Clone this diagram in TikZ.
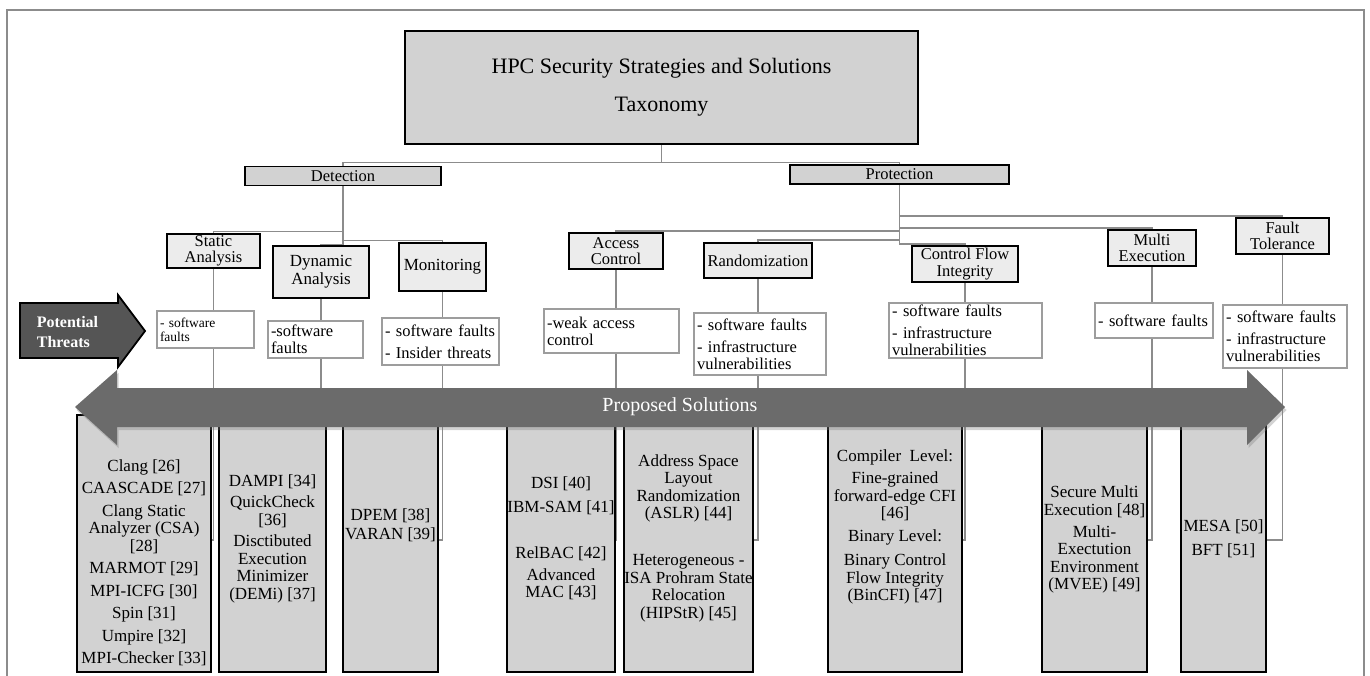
\documentclass[tikz,border=0pt]{standalone}
\usepackage{fontspec}
\setmainfont{Liberation Serif}
\usetikzlibrary{backgrounds,shadows,calc}
\definecolor{TxBox}{HTML}{D2D2D2}
\definecolor{TxCat}{HTML}{ECECEC}
\definecolor{TxLine}{HTML}{8C8C8C}
\definecolor{TxThreat}{HTML}{555555}
\definecolor{TxBand}{HTML}{6B6B6B}

\begin{document}
\begin{tikzpicture}[
    x=1pt, y=-1pt,
    titlebox/.style={
      draw=black,
      line width=1.6pt,
      fill=TxBox,
      minimum width=513pt,
      minimum height=113pt,
      align=center,
      font=\fontsize{22}{38}\selectfont
    },
    branchbox/.style={
      draw=black,
      line width=1.8pt,
      fill=TxBox,
      inner sep=0pt,
      minimum height=19pt,
      font=\fontsize{16.5}{17}\selectfont
    },
    catbox/.style={
      draw=black,
      line width=1.8pt,
      fill=TxCat,
      inner sep=0pt,
      align=center,
      font=\fontsize{16.5}{16.5}\selectfont
    },
    threatbox/.style={
      draw=TxLine!85,
      line width=1.1pt,
      fill=white,
      inner xsep=3pt,
      inner ysep=0pt,
      align=left,
      font=\fontsize{16.5}{17}\selectfont
    },
    solbox/.style={
      draw=black,
      line width=1.8pt,
      fill=TxBox,
      minimum height=257pt
    },
    soltxt/.style={
      inner sep=0pt,
      align=center,
      font=\fontsize{17}{17.5}\selectfont
    },
    tline/.style={
      draw=TxLine,
      line width=1.3pt
    }
  ]
  \useasboundingbox (0,0) rectangle (1370,676);
  \clip (0,0) rectangle (1370,676);

  % frame
  \draw[TxLine, line width=1.5pt] (7,10) rectangle (1364,700);

  % top
  \node[titlebox] (title) at (661.5,87.5) {HPC Security Strategies and Solutions\\Taxonomy};
  \node[branchbox, minimum width=196pt] (det) at (343,176) {Detection};
  \node[branchbox, minimum width=219pt] (prot) at (899.5,174.5) {Protection};

  % categories
  \node[catbox, minimum width=93pt, minimum height=34pt] (stat) at (213.5,251) {Static\\Analysis};
  \node[catbox, minimum width=96pt, minimum height=52pt, font=\fontsize{17}{18}\selectfont] (dyn) at (321,272) {Dynamic\\Analysis};
  \node[catbox, minimum width=87pt, minimum height=48pt, font=\fontsize{17}{18}\selectfont] (mon) at (442.5,267) {Monitoring};
  \node[catbox, minimum width=94pt, minimum height=36pt] (acc) at (616,251) {Access\\Control};
  \node[catbox, minimum width=108pt, minimum height=35pt] (rnd) at (758,260.5) {Randomization};
  \node[catbox, minimum width=106pt, minimum height=36pt] (cfi) at (965,264) {Control Flow\\Integrity};
  \node[catbox, minimum width=88pt, minimum height=36pt] (mul) at (1152,248) {Multi\\Execution};
  \node[catbox, minimum width=93pt, minimum height=36pt] (ft) at (1282.5,236) {Fault\\Tolerance};

  % threats
  \node[threatbox, text width=91pt, minimum height=37pt, font=\fontsize{13.5}{14}\selectfont] (thrS) at (205.5,329.5) {- software\\faults};
  \node[threatbox, text width=89pt, minimum height=37pt] (thrD) at (315.5,339.5) {-software\\faults};
  \node[threatbox, text width=111pt, minimum height=47pt] (thrM) at (440.5,341.5) {- software faults\\[5pt]- Insider threats};
  \node[threatbox, text width=129pt, minimum height=44pt] (thrA) at (611.5,331) {-weak access\\control};
  \node[threatbox, text width=126pt, minimum height=62pt] (thrR) at (760,344) {- software faults\\[5pt]- infrastructure\\vulnerabilities};
  \node[threatbox, text width=147pt, minimum height=55pt] (thrC) at (965.5,330.5) {- software faults\\[5pt]- infrastructure\\vulnerabilities};
  \node[threatbox, text width=112pt, minimum height=35pt] (thrMu) at (1154,320.5) {- software faults};
  \node[threatbox, text width=118pt, minimum height=63pt] (thrF) at (1285,336.5) {- software faults\\[5pt]- infrastructure\\vulnerabilities};

  % solutions
  \node[solbox, minimum width=134pt] (solS) at (144,543.5) {};
  \node[solbox, minimum width=107pt] (solD) at (272.5,543.5) {};
  \node[solbox, minimum width=95pt] (solM) at (390.5,543.5) {};
  \node[solbox, minimum width=108pt] (solA) at (561,543.5) {};
  \node[solbox, minimum width=129pt] (solR) at (688.5,543.5) {};
  \node[solbox, minimum width=134pt] (solC) at (895,543.5) {};
  \node[solbox, minimum width=105pt] (solMu) at (1094.5,543.5) {};
  \node[solbox, minimum width=85pt] (solF) at (1223.5,543.5) {};

  \node[soltxt] (solSt) at (144,562.5) {Clang [26]\\[5pt]CAASCADE [27]\\[5pt]Clang Static\\Analyzer (CSA)\\{[28]}\\[5pt]MARMOT [29]\\[5pt]MPI-ICFG [30]\\[5pt]Spin [31]\\[5pt]Umpire [32]\\[5pt]MPI-Checker [33]};
  \node[soltxt] (solDt) at (272.5,538.5) {DAMPI [34]\\[4pt]QuickCheck\\{[36]}\\[4pt]Disctibuted\\Execution\\Minimizer\\(DEMi) [37]};
  \node[soltxt] (solMt) at (390.5,525.5) {DPEM [38]\\[1.5pt]VARAN [39]};
  \node[soltxt] (solAt) at (561,538) {DSI [40]\\[6.5pt]IBM-SAM [41]\\[28.5pt]RelBAC [42]\\[4.5pt]Advanced\\MAC [43]};
  \node[soltxt] (solRt) at (688.5,538) {Address Space\\Layout\\Randomization\\(ASLR) [44]\\[29.5pt]Heterogeneous -\\ISA Prohram State\\Relocation\\(HIPStR) [45]};
  \node[soltxt] (solCt) at (895,527) {Compiler\ \ Level:\\[4.5pt]Fine-grained\\forward-edge CFI\\{[46]}\\[5.5pt]Binary Level:\\[6.5pt]Binary Control\\Flow Integrity\\(BinCFI) [47]};
  \node[soltxt] (solMut) at (1094.5,539.5) {Secure Multi\\Execution [48]\\[4.5pt]Multi-\\Exectution\\Environment\\(MVEE) [49]};
  \node[soltxt] (solFt) at (1223.5,539) {MESA [50]\\[6.5pt]BFT [51]};

  % connectors, behind everything
  \coordinate (stub) at (0,540);
  \begin{scope}[on background layer]
    \draw[tline] (title.south) -- ++(0,18) -| (det.north);
    \draw[tline] (title.south) -- ++(0,18) -| (prot.north);

    \draw[tline] (det.south) -- ++(0,45) -| (stat.north);
    \draw[tline] (det.south) -- ++(0,58) -| (dyn.north);
    \draw[tline] (det.south) -- ++(0,54) -| (mon.north);

    \draw[tline] (prot.south) -- ++(0,31) -| (ft.north);
    \draw[tline] (prot.south) -- ++(0,43) -| (mul.north);
    \draw[tline] (prot.south) -- ++(0,46) -| (acc.north);
    \draw[tline] (prot.south) -- ++(0,55) -| (rnd.north);
    \draw[tline] (prot.south) -- ++(0,59) -| (cfi.north);

    \draw[tline] (stat.south) |- (solS.east |- stub);
    \draw[tline] (dyn.south) |- (solD.east |- stub);
    \draw[tline] (mon.south) |- (solM.east |- stub);
    \draw[tline] (acc.south) |- (solA.east |- stub);
    \draw[tline] (rnd.south) |- (solR.east |- stub);
    \draw[tline] (cfi.south) |- (solC.east |- stub);
    \draw[tline] (mul.south) |- (solMu.east |- stub);
    \draw[tline] (ft.south) |- (solF.east |- stub);
  \end{scope}

  % proposed solutions band
  \fill[TxBand, drop shadow={shadow xshift=1.5pt, shadow yshift=-3pt, opacity=0.35}]
    (75,407) -- (117,370) -- (117,388) -- (1247,388) -- (1247,370) -- (1285,407)
    -- (1247,445) -- (1247,427) -- (117,427) -- (117,445) -- cycle;
  \node[text=white, font=\fontsize{20}{22}\selectfont] (band) at (680,407) {Proposed Solutions};

  % potential threats arrow
  \draw[black, line width=1.8pt, fill=TxThreat]
    (20,303) -- (118,303) -- (118,295) -- (145,331) -- (118,367) -- (118,358) -- (20,358) -- cycle;
  \node[text=white, align=left, inner sep=0pt, font=\fontsize{16}{20}\selectfont\bfseries] (pot) at (67.5,332) {Potential\\Threats};

\end{tikzpicture}
\end{document}
